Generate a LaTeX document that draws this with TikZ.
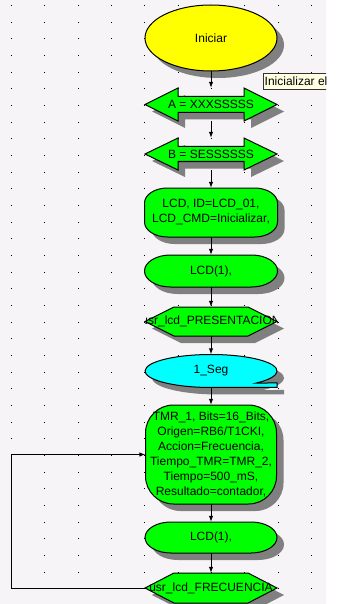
\documentclass[tikz,border=0pt]{standalone}
\usepackage{fontspec}
\setmainfont{Liberation Sans}
\usetikzlibrary{arrows.meta}

\definecolor{canvas}{RGB}{246,244,246}
\definecolor{shade}{RGB}{128,128,128}
\definecolor{lime}{RGB}{0,255,0}
\definecolor{sunyellow}{RGB}{255,255,0}
\definecolor{aqua}{RGB}{0,255,255}
\definecolor{tipyellow}{RGB}{255,255,225}

% outlines, drawn from the centre as current point
\newcommand{\dblarrowpath}[2]{++(-66,0) -- ++(33,-#1) -- ++(0,{#1-#2}) -- ++(66,0) -- ++(0,{#2-#1}) -- ++(33,#1) -- ++(-33,#1) -- ++(0,{#2-#1}) -- ++(-66,0) -- ++(0,{#1-#2}) -- cycle}
\newcommand{\hexpath}[3]{++(-#1,0) -- ++(#3,-#2) -- ++({2*#1-2*#3},0) -- ++(#3,#2) -- ++(-#3,#2) -- ++({2*#3-2*#1},0) -- cycle}
\newcommand{\ovalpath}[4]{++({#3-#1},-#2) -- ++({2*#1-2*#3},0) arc[start angle=-90,end angle=0,x radius=#3,y radius=#4] -- ++(0,{2*#2-2*#4}) arc[start angle=0,end angle=90,x radius=#3,y radius=#4] -- ++({2*#3-2*#1},0) arc[start angle=90,end angle=180,x radius=#3,y radius=#4] -- ++(0,{2*#4-2*#2}) arc[start angle=180,end angle=270,x radius=#3,y radius=#4] -- cycle}
\newcommand{\delaypath}{++(45.3,12) arc[start angle=46.7,end angle=-270,x radius=66,y radius=16.5] -- ++(66,0) -- ++(0,-4.5) -- cycle}
% shadow first, then the filled outline
\newcommand{\block}[3]{\fill[dropshade] ([shift={(7,7)}]#1) #3; \filldraw[fill=#2, outline] (#1) #3;}

\tikzset{
  every node/.style={font=\fontsize{12}{15}\selectfont},
  boxtxt/.style 2 args={minimum width=#1, minimum height=#2, inner sep=0pt, align=center},
  flow/.style={line width=1pt, -{Latex[length=6pt,width=4.5pt]}},
  dropshade/.style={fill=shade},
  outline/.style={draw=black, line width=1pt},
  tipbox/.style={draw=black!80, fill=tipyellow, inner sep=1.5pt, minimum height=16, anchor=west}
}

\begin{document}
\begin{tikzpicture}[x=1pt, y=-1pt]
  \useasboundingbox (0,0) rectangle (344,604);
  \fill[white] (0,0) rectangle (344,604);
  \fill[canvas] (0,0) rectangle (326,604);
  \foreach \i in {0,...,9}
    \foreach \j in {0,...,35}
      \fill (11+33.33*\i, 5+16.667*\j) rectangle ++(1,1);

  \coordinate (inic) at (211,38);
  \coordinate (setac) at (211,104.5);
  \coordinate (setbc) at (211,154);
  \coordinate (lcdinic) at (211,212.5);
  \coordinate (lcdac) at (211,271);
  \coordinate (presc) at (211,321.5);
  \coordinate (segc) at (211,371);
  \coordinate (tmrc) at (211,454.5);
  \coordinate (lcdbc) at (211,537.5);
  \coordinate (frecc) at (211,588);
  \coordinate (loop) at (11,587);

  \block{inic}{sunyellow}{ellipse[x radius=66, y radius=33]}
  \block{setac}{lime}{\dblarrowpath{16.5}{8}}
  \block{setbc}{lime}{\dblarrowpath{16}{7.5}}
  \block{lcdinic}{lime}{\ovalpath{66.5}{24.5}{23}{15}}
  \block{lcdac}{lime}{\ovalpath{66.5}{16}{26}{16}}
  \block{presc}{lime}{\hexpath{66}{14.5}{29}}
  \block{segc}{aqua}{\delaypath}
  \block{tmrc}{lime}{\ovalpath{65.5}{49.5}{28}{28}}
  \block{lcdbc}{lime}{\ovalpath{66}{15.5}{26}{15.5}}
  \block{frecc}{lime}{\hexpath{66}{15}{29}}

  \node[boxtxt={132}{66}] (ini) at (inic) {Iniciar};
  \node[boxtxt={132}{33}] (seta) at (setac) {A = XXXSSSSS};
  \node[boxtxt={132}{32}] (setb) at (setbc) {B = SESSSSSS};
  \node[boxtxt={133}{49}] (lcdini) at (lcdinic) {LCD, ID=LCD\_01,\\LCD\_CMD=Inicializar,};
  \node[boxtxt={133}{32}] (lcda) at (lcdac) {LCD(1),};
  \begin{scope}
    \clip (presc) ++(-66,-14.5) rectangle ++(132,29);
    \node[boxtxt={132}{29}] (pres) at (presc) {usr\_lcd\_PRESENTACION};
  \end{scope}
  \node[boxtxt={132}{33}] (seg) at (segc) {1\_Seg};
  \node[boxtxt={131}{99}] (tmr) at (tmrc) {TMR\_1, Bits=16\_Bits,\\Origen=RB6/T1CKI,\\Accion=Frecuencia,\\Tiempo\_TMR=TMR\_2,\\Tiempo=500\_mS,\\Resultado=contador,};
  \node[boxtxt={132}{31}] (lcdb) at (lcdbc) {LCD(1),};
  \node[boxtxt={132}{30}] (frec) at (frecc) {usr\_lcd\_FRECUENCIA};

  \foreach \u/\v in {ini/seta, seta/setb, setb/lcdini, lcdini/lcda, lcda/pres, pres/seg, seg/tmr, tmr/lcdb, lcdb/frec}
    \draw[flow] (\u) -- (\v);
  \draw[flow] (frec.west) -- (frec.west -| loop) |- (tmr.west);

  \begin{scope}
    \clip (0,0) rectangle (326,604);
    \node[tipbox] (tip) at (263,81.5) {Inicializar el};
  \end{scope}
\end{tikzpicture}
\end{document}
